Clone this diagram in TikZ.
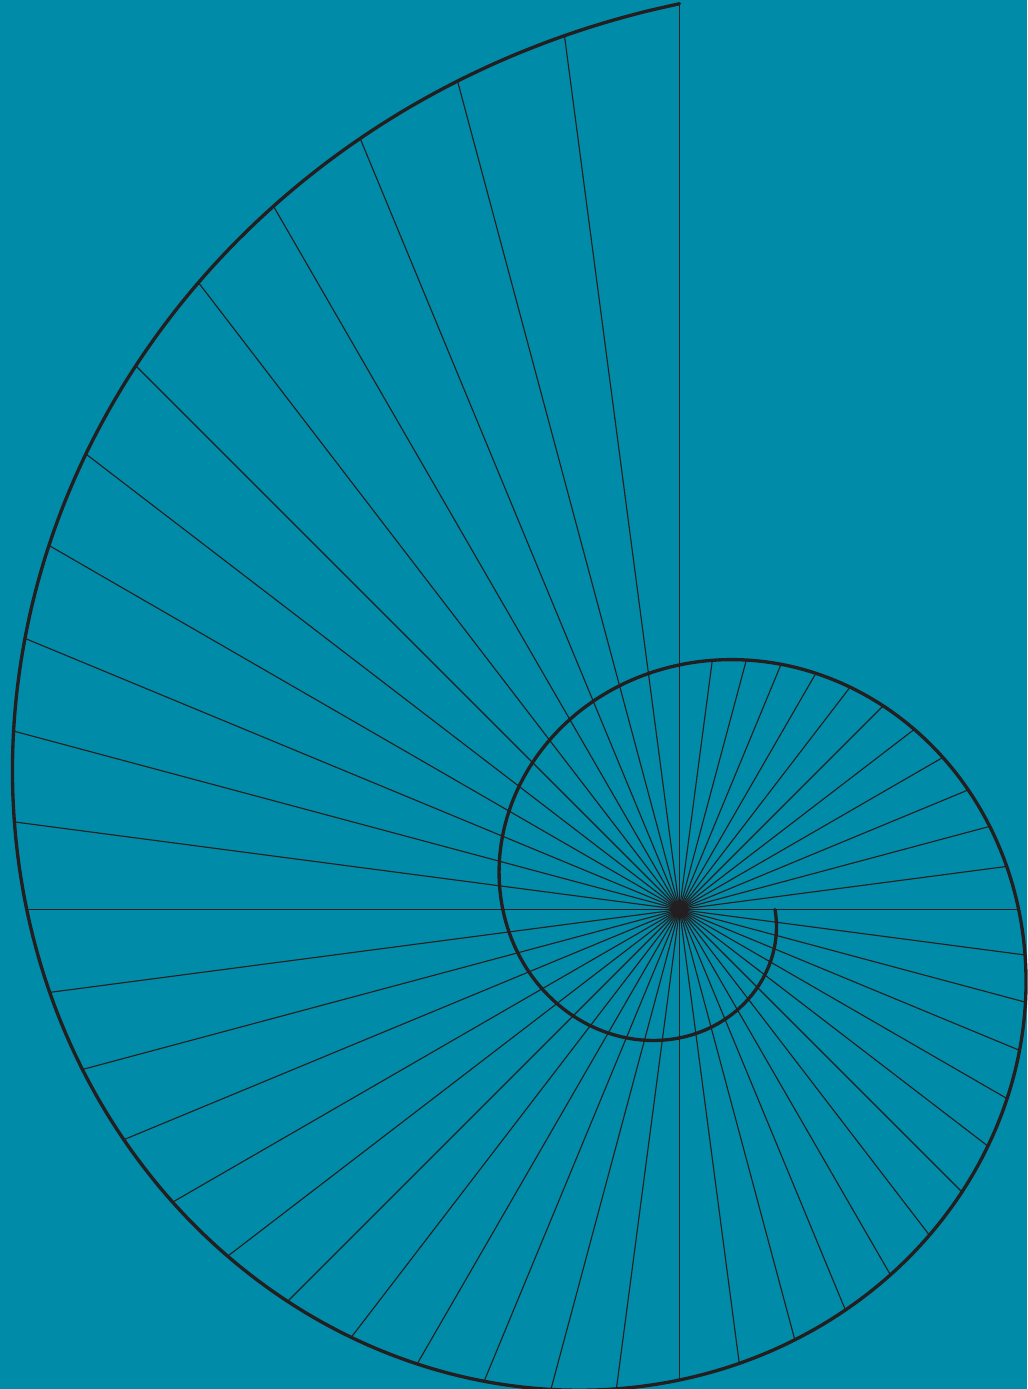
\documentclass[tikz,border=0pt]{standalone}
\usepackage{xcolor}
\usepackage{tikz}
\definecolor{shellteal}{RGB}{0,140,168}
\definecolor{shellink}{RGB}{35,31,32}

\begin{document}
\begin{tikzpicture}[declare function={shellr(\q)=0.915*exp(0.3275*\q)+0.04*exp(-\q);}]
  \tikzset{
    spiral/.style={draw=shellink, line width=0.95pt, line cap=round},
    ray/.style={draw=shellink, line width=0.32pt}
  }
  \fill[shellteal] (0,0) rectangle (10.27,13.89);
  \useasboundingbox (0,0) rectangle (10.27,13.89);
  \coordinate (c) at (6.795,4.795);
  % rays out to the outer turn
  \foreach \k in {0,...,47} {
    \pgfmathsetmacro\a{-82.5+7.5*\k}
    \pgfmathsetmacro\q{\k<23 ? (360-\a)/90 : (720-\a)/90}
    \draw[ray] (c) -- ++(\a:{shellr(\q)});
  }
  % the shell spiral
  \draw[spiral, shift={(c)}] plot[domain=0:630, samples=300, smooth, variable=\t]
    ({-\t}:{shellr(\t/90)});
  \fill[shellink] (c) circle (0.09);
\end{tikzpicture}
\end{document}
